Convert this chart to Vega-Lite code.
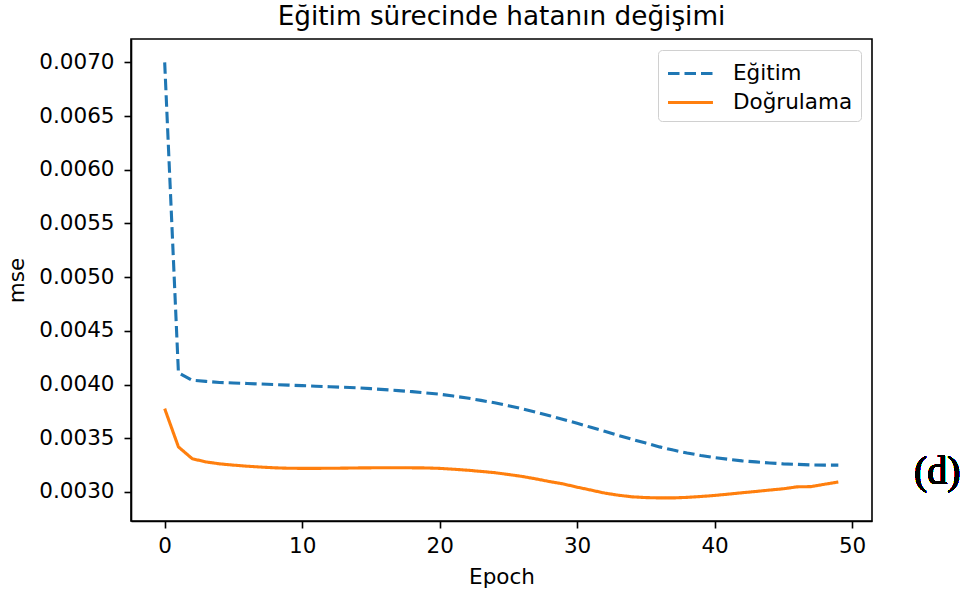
{
  "$schema": "https://vega.github.io/schema/vega-lite/v6.json",
  "autosize": {"type": "none"},
  "width": 741,
  "height": 482,
  "padding": {"left": 131, "top": 39, "right": 95, "bottom": 75},
  "background": "white",
  "title": {
    "text": "Eğitim sürecinde hatanın değişimi",
    "font": "DejaVu Sans",
    "fontSize": 26.3,
    "fontWeight": "normal",
    "color": "black",
    "anchor": "middle",
    "offset": 9
  },
  "config": {
    "view": {"stroke": "black", "strokeWidth": 1.6},
    "axis": {
      "grid": false,
      "domainColor": "black",
      "domainWidth": 1.6,
      "tickColor": "black",
      "tickWidth": 1.6,
      "tickSize": 7,
      "labelFont": "DejaVu Sans",
      "labelFontSize": 21.5,
      "labelColor": "black",
      "labelPadding": 7,
      "titleFont": "DejaVu Sans",
      "titleFontSize": 21.5,
      "titleFontWeight": "normal",
      "titleColor": "black"
    }
  },
  "data": {
    "values": [
      {"epoch": 0, "series": "Eğitim", "mse": 0.00700},
      {"epoch": 1, "series": "Eğitim", "mse": 0.00411},
      {"epoch": 2, "series": "Eğitim", "mse": 0.00404},
      {"epoch": 3, "series": "Eğitim", "mse": 0.00403},
      {"epoch": 4, "series": "Eğitim", "mse": 0.00402},
      {"epoch": 5, "series": "Eğitim", "mse": 0.004015},
      {"epoch": 6, "series": "Eğitim", "mse": 0.00401},
      {"epoch": 7, "series": "Eğitim", "mse": 0.004005},
      {"epoch": 8, "series": "Eğitim", "mse": 0.00400},
      {"epoch": 9, "series": "Eğitim", "mse": 0.003995},
      {"epoch": 10, "series": "Eğitim", "mse": 0.00399},
      {"epoch": 11, "series": "Eğitim", "mse": 0.003985},
      {"epoch": 12, "series": "Eğitim", "mse": 0.00398},
      {"epoch": 13, "series": "Eğitim", "mse": 0.003975},
      {"epoch": 14, "series": "Eğitim", "mse": 0.00397},
      {"epoch": 15, "series": "Eğitim", "mse": 0.003962},
      {"epoch": 16, "series": "Eğitim", "mse": 0.003953},
      {"epoch": 17, "series": "Eğitim", "mse": 0.003944},
      {"epoch": 18, "series": "Eğitim", "mse": 0.003934},
      {"epoch": 19, "series": "Eğitim", "mse": 0.003922},
      {"epoch": 20, "series": "Eğitim", "mse": 0.00391},
      {"epoch": 21, "series": "Eğitim", "mse": 0.003893},
      {"epoch": 22, "series": "Eğitim", "mse": 0.003875},
      {"epoch": 23, "series": "Eğitim", "mse": 0.003853},
      {"epoch": 24, "series": "Eğitim", "mse": 0.00383},
      {"epoch": 25, "series": "Eğitim", "mse": 0.003803},
      {"epoch": 26, "series": "Eğitim", "mse": 0.003775},
      {"epoch": 27, "series": "Eğitim", "mse": 0.003743},
      {"epoch": 28, "series": "Eğitim", "mse": 0.00371},
      {"epoch": 29, "series": "Eğitim", "mse": 0.003675},
      {"epoch": 30, "series": "Eğitim", "mse": 0.00364},
      {"epoch": 31, "series": "Eğitim", "mse": 0.003602},
      {"epoch": 32, "series": "Eğitim", "mse": 0.003565},
      {"epoch": 33, "series": "Eğitim", "mse": 0.003527},
      {"epoch": 34, "series": "Eğitim", "mse": 0.00349},
      {"epoch": 35, "series": "Eğitim", "mse": 0.003455},
      {"epoch": 36, "series": "Eğitim", "mse": 0.00342},
      {"epoch": 37, "series": "Eğitim", "mse": 0.00339},
      {"epoch": 38, "series": "Eğitim", "mse": 0.003363},
      {"epoch": 39, "series": "Eğitim", "mse": 0.00334},
      {"epoch": 40, "series": "Eğitim", "mse": 0.00332},
      {"epoch": 41, "series": "Eğitim", "mse": 0.003305},
      {"epoch": 42, "series": "Eğitim", "mse": 0.00329},
      {"epoch": 43, "series": "Eğitim", "mse": 0.00328},
      {"epoch": 44, "series": "Eğitim", "mse": 0.00327},
      {"epoch": 45, "series": "Eğitim", "mse": 0.003262},
      {"epoch": 46, "series": "Eğitim", "mse": 0.003257},
      {"epoch": 47, "series": "Eğitim", "mse": 0.003252},
      {"epoch": 48, "series": "Eğitim", "mse": 0.00325},
      {"epoch": 49, "series": "Eğitim", "mse": 0.00325},
      {"epoch": 0, "series": "Doğrulama", "mse": 0.003776},
      {"epoch": 1, "series": "Doğrulama", "mse": 0.00342},
      {"epoch": 2, "series": "Doğrulama", "mse": 0.00331},
      {"epoch": 3, "series": "Doğrulama", "mse": 0.00328},
      {"epoch": 4, "series": "Doğrulama", "mse": 0.003262},
      {"epoch": 5, "series": "Doğrulama", "mse": 0.00325},
      {"epoch": 6, "series": "Doğrulama", "mse": 0.00324},
      {"epoch": 7, "series": "Doğrulama", "mse": 0.003232},
      {"epoch": 8, "series": "Doğrulama", "mse": 0.003225},
      {"epoch": 9, "series": "Doğrulama", "mse": 0.003221},
      {"epoch": 10, "series": "Doğrulama", "mse": 0.00322},
      {"epoch": 11, "series": "Doğrulama", "mse": 0.00322},
      {"epoch": 12, "series": "Doğrulama", "mse": 0.003221},
      {"epoch": 13, "series": "Doğrulama", "mse": 0.003222},
      {"epoch": 14, "series": "Doğrulama", "mse": 0.003224},
      {"epoch": 15, "series": "Doğrulama", "mse": 0.003225},
      {"epoch": 16, "series": "Doğrulama", "mse": 0.003226},
      {"epoch": 17, "series": "Doğrulama", "mse": 0.003226},
      {"epoch": 18, "series": "Doğrulama", "mse": 0.003225},
      {"epoch": 19, "series": "Doğrulama", "mse": 0.003224},
      {"epoch": 20, "series": "Doğrulama", "mse": 0.00322},
      {"epoch": 21, "series": "Doğrulama", "mse": 0.003212},
      {"epoch": 22, "series": "Doğrulama", "mse": 0.003203},
      {"epoch": 23, "series": "Doğrulama", "mse": 0.003192},
      {"epoch": 24, "series": "Doğrulama", "mse": 0.00318},
      {"epoch": 25, "series": "Doğrulama", "mse": 0.003163},
      {"epoch": 26, "series": "Doğrulama", "mse": 0.003145},
      {"epoch": 27, "series": "Doğrulama", "mse": 0.003122},
      {"epoch": 28, "series": "Doğrulama", "mse": 0.003097},
      {"epoch": 29, "series": "Doğrulama", "mse": 0.003075},
      {"epoch": 30, "series": "Doğrulama", "mse": 0.003045},
      {"epoch": 31, "series": "Doğrulama", "mse": 0.003018},
      {"epoch": 32, "series": "Doğrulama", "mse": 0.00299},
      {"epoch": 33, "series": "Doğrulama", "mse": 0.00297},
      {"epoch": 34, "series": "Doğrulama", "mse": 0.002955},
      {"epoch": 35, "series": "Doğrulama", "mse": 0.002948},
      {"epoch": 36, "series": "Doğrulama", "mse": 0.002945},
      {"epoch": 37, "series": "Doğrulama", "mse": 0.002945},
      {"epoch": 38, "series": "Doğrulama", "mse": 0.00295},
      {"epoch": 39, "series": "Doğrulama", "mse": 0.002958},
      {"epoch": 40, "series": "Doğrulama", "mse": 0.002968},
      {"epoch": 41, "series": "Doğrulama", "mse": 0.00298},
      {"epoch": 42, "series": "Doğrulama", "mse": 0.002993},
      {"epoch": 43, "series": "Doğrulama", "mse": 0.003005},
      {"epoch": 44, "series": "Doğrulama", "mse": 0.003018},
      {"epoch": 45, "series": "Doğrulama", "mse": 0.00303},
      {"epoch": 46, "series": "Doğrulama", "mse": 0.003048},
      {"epoch": 47, "series": "Doğrulama", "mse": 0.00305},
      {"epoch": 48, "series": "Doğrulama", "mse": 0.003072},
      {"epoch": 49, "series": "Doğrulama", "mse": 0.003093}
    ]
  },
  "layer": [
    {
      "mark": {"type": "line", "strokeWidth": 3.1, "strokeCap": "butt", "clip": true},
      "encoding": {
        "x": {
          "field": "epoch",
          "type": "quantitative",
          "title": "Epoch",
          "scale": {"domain": [-2.45, 51.45], "nice": false, "zero": false},
          "axis": {"values": [0, 10, 20, 30, 40, 50], "titlePadding": 10}
        },
        "y": {
          "field": "mse",
          "type": "quantitative",
          "title": "mse",
          "scale": {"domain": [0.00273, 0.007217], "nice": false, "zero": false},
          "axis": {
            "values": [0.003, 0.0035, 0.004, 0.0045, 0.005, 0.0055, 0.006, 0.0065, 0.007],
            "format": ".4f",
            "labelPadding": 10,
            "titlePadding": 10
          }
        },
        "color": {
          "field": "series",
          "type": "nominal",
          "title": null,
          "scale": {"domain": ["Eğitim", "Doğrulama"], "range": ["#1f77b4", "#ff7f0e"]},
          "legend": {
            "orient": "top-right",
            "offset": 11,
            "padding": 8,
            "strokeColor": "#d0d0d0",
            "fillColor": "rgba(255,255,255,0.8)",
            "cornerRadius": 4,
            "labelFont": "DejaVu Sans",
            "labelFontSize": 21.5,
            "labelColor": "black",
            "labelOffset": 36,
            "rowPadding": 3,
            "symbolType": "M-1,0H2.33",
            "symbolSize": 729,
            "symbolStrokeWidth": 3.1
          }
        },
        "strokeDash": {
          "field": "series",
          "type": "nominal",
          "title": null,
          "scale": {"domain": ["Eğitim", "Doğrulama"], "range": [[11.5, 5], [1, 0]]}
        }
      }
    },
    {
      "mark": {"type": "text", "text": "(d)", "font": "serif", "fontSize": 40, "fontWeight": 400, "fill": "black", "align": "center", "baseline": "middle", "clip": false},
      "encoding": {
        "x": {"datum": 56.2, "type": "quantitative"},
        "y": {"datum": 0.00319, "type": "quantitative"}
      }
    }
  ]
}
